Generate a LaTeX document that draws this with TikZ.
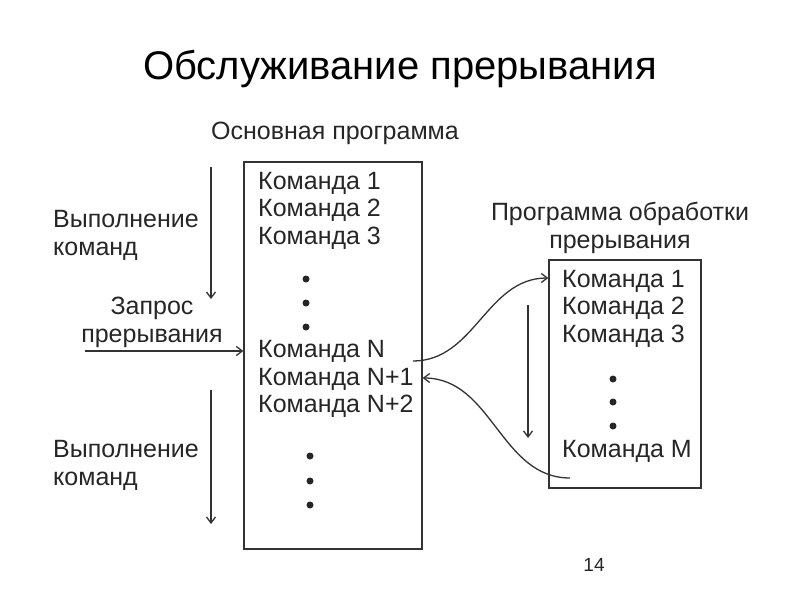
\documentclass[tikz,border=0pt]{standalone}
\usepackage{fontspec}
\setmainfont{Liberation Sans}
\usetikzlibrary{arrows.meta}

\begin{document}
\begin{tikzpicture}[x=1pt, y=-1pt,
    txt/.style={inner sep=0pt, text=black!85, font=\fontsize{25}{28}\selectfont},
    cmd/.style={txt, anchor=west},
    dot/.style={circle, fill=black!85, inner sep=0pt, minimum size=7pt},
    flow/.style={draw=black!80, line width=1.3pt, -{Straight Barb[length=6pt,width=9pt]}}]
    \useasboundingbox (0,0) rectangle (800,600);

    \node[font=\fontsize{40}{44}\selectfont] (title) at (400,69) {Обслуживание прерывания};
    \node[font=\fontsize{19}{21}\selectfont, text=black!85] (page) at (594,565) {14};

    % main program
    \node[draw=black!80, line width=1.3pt, minimum width=178pt, minimum height=387pt] (main) at (333,355.5) {};
    \node[txt] (mainlbl) at (335,133) {Основная программа};
    \node[cmd] (m1) at (258,183) {Команда 1};
    \node[cmd] (m2) at (258,210) {Команда 2};
    \node[cmd] (m3) at (258,238) {Команда 3};
    \node[dot] (md1) at (306,279) {};
    \node[dot] (md2) at (306,303) {};
    \node[dot] (md3) at (306,327) {};
    \node[cmd] (mN) at (258,351) {Команда N};
    \node[cmd] (mN1) at (258,379) {Команда N+1};
    \node[cmd] (mN2) at (258,406) {Команда N+2};
    \node[dot] (md4) at (310,456) {};
    \node[dot] (md5) at (310,481) {};
    \node[dot] (md6) at (310,505) {};

    % interrupt handler
    \node[draw=black!80, line width=1.3pt, minimum width=152pt, minimum height=228pt] (handler) at (625,374) {};
    \node[txt, align=center] (hlbl) at (620,228) {Программа обработки\\прерывания};
    \node[cmd] (h1) at (562,281) {Команда 1};
    \node[cmd] (h2) at (562,308) {Команда 2};
    \node[cmd] (h3) at (562,336) {Команда 3};
    \node[dot] (hd1) at (613,379) {};
    \node[dot] (hd2) at (613,402) {};
    \node[dot] (hd3) at (613,426) {};
    \node[cmd] (hM) at (562,451) {Команда M};

    % left labels
    \node[txt, align=left, anchor=west] (exec1) at (53,235) {Выполнение\\команд};
    \node[txt, align=left, anchor=west] (exec2) at (53,465) {Выполнение\\команд};
    \node[txt, align=center] (req) at (152,322) {Запрос\\прерывания};

    \coordinate (a1) at (211,167);
    \coordinate (a2) at (211,299);
    \coordinate (a3) at (211,390);
    \coordinate (a4) at (211,524);
    \coordinate (r0) at (85,351);
    \coordinate (h0) at (528,305);
    \coordinate (h9) at (528,438);
    \coordinate (outN) at (413,361);
    \coordinate (outM) at (570,478);

    \draw[flow] (a1) -- (a2);
    \draw[flow] (a3) -- (a4);
    \draw[flow] (r0) -- (main.west |- r0);
    \draw[flow] (h0) -- (h9);
    \draw[flow] (outN) to[out=0, in=180] (handler.west |- 0,278);
    \draw[flow] (outM) to[out=180, in=0] (main.east |- 0,378);
\end{tikzpicture}
\end{document}
